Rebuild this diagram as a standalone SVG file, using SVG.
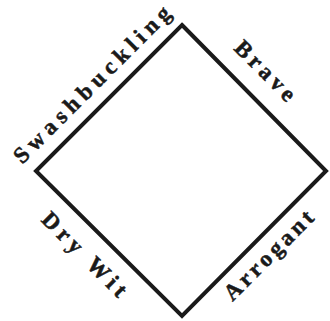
<svg xmlns="http://www.w3.org/2000/svg" width="330" height="321" viewBox="0 0 330 321">
<style>
.lbl{font-family:"Liberation Serif","Times New Roman",serif;font-weight:bold;font-size:23px;fill:#1a1a1a;stroke:#1a1a1a;stroke-width:0.5;text-anchor:middle}
.edge{fill:none;stroke:#1a1a1a;stroke-width:4;stroke-linejoin:miter}
</style>
<rect width="330" height="321" fill="#fff"/>
<g id="connectors">
<polygon class="edge" points="182,25 326,171 182,316 36,171"/>
</g>
<g id="swashbuckling" transform="translate(93.5,86) rotate(-45)"><text class="lbl" x="0" y="5.3" textLength="212" lengthAdjust="spacing">Swashbuckling</text></g>
<g id="brave" transform="translate(265.5,70.5) rotate(45)"><text class="lbl" x="0" y="7.8" textLength="76" lengthAdjust="spacing">Brave</text></g>
<g id="drywit" transform="translate(83,256) rotate(45)"><text class="lbl" x="0" y="5.3" textLength="110" lengthAdjust="spacing">Dry Wit</text></g>
<g id="arrogant" transform="translate(270,257) rotate(-45)"><text class="lbl" x="0" y="5.3" textLength="117" lengthAdjust="spacing">Arrogant</text></g>
</svg>
